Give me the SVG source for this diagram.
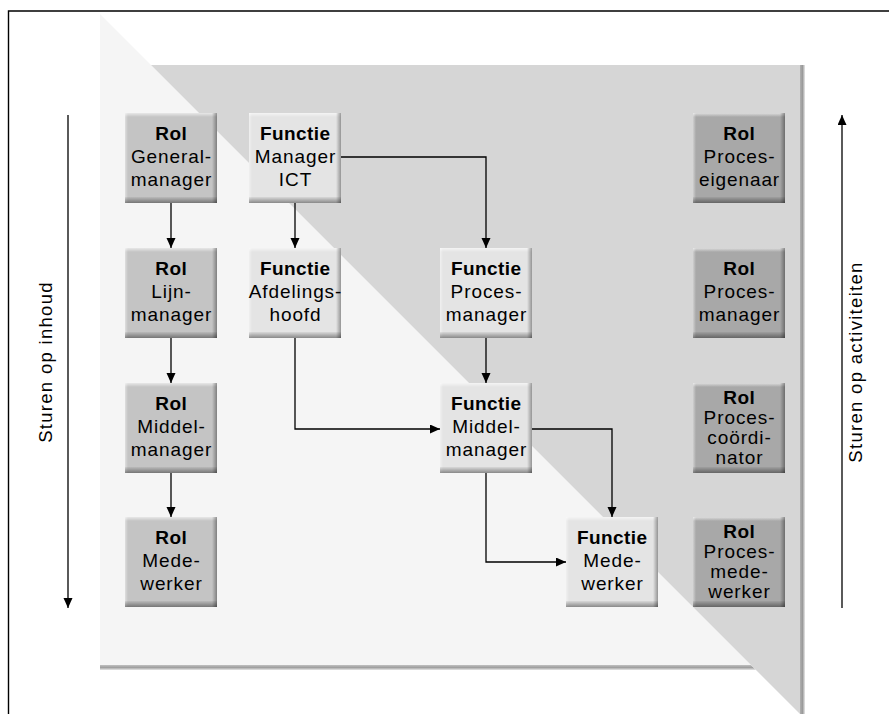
<svg xmlns="http://www.w3.org/2000/svg" width="889" height="714" viewBox="0 0 889 714">
<style>
  .t{font-family:"Liberation Sans",Arial,sans-serif;font-size:19px;fill:#000;text-anchor:middle;letter-spacing:0.9px}
  .b{font-weight:bold;letter-spacing:0.4px}
  .side{font-family:"Liberation Sans",Arial,sans-serif;font-size:18.5px;fill:#000;text-anchor:middle;letter-spacing:1.3px}
  .rolL{fill:#c4c4c4}
  .rolR{fill:#a8a8a8}
  .fun{fill:#e4e4e4}
  .hl-t{fill:url(#gTop)}
  .hl-l{fill:url(#gLeft)}
  .sh-r{fill:url(#gRight)}
  .sh-b{fill:url(#gBot)}
  .con{fill:none;stroke:#000;stroke-width:1.3;marker-end:url(#ah)}
</style>
<defs>
  <linearGradient id="gTop" x1="0" y1="0" x2="0" y2="1">
    <stop offset="0" stop-color="#fff" stop-opacity="0.6"/>
    <stop offset="1" stop-color="#fff" stop-opacity="0"/>
  </linearGradient>
  <linearGradient id="gLeft" x1="0" y1="0" x2="1" y2="0">
    <stop offset="0" stop-color="#fff" stop-opacity="0.45"/>
    <stop offset="1" stop-color="#fff" stop-opacity="0"/>
  </linearGradient>
  <linearGradient id="gRight" x1="0" y1="0" x2="1" y2="0">
    <stop offset="0" stop-color="#000" stop-opacity="0"/>
    <stop offset="1" stop-color="#000" stop-opacity="0.35"/>
  </linearGradient>
  <linearGradient id="gBot" x1="0" y1="0" x2="0" y2="1">
    <stop offset="0" stop-color="#000" stop-opacity="0.05"/>
    <stop offset="1" stop-color="#000" stop-opacity="0.4"/>
  </linearGradient>
  <linearGradient id="gPanelBot" x1="0" y1="0" x2="0" y2="1">
    <stop offset="0" stop-color="#c0c0c0"/>
    <stop offset="0.5" stop-color="#a0a0a0"/>
    <stop offset="1" stop-color="#e6e6e6"/>
  </linearGradient>
  <linearGradient id="gPanelRight" x1="0" y1="0" x2="1" y2="0">
    <stop offset="0" stop-color="#b0b0b0"/>
    <stop offset="0.5" stop-color="#9a9a9a"/>
    <stop offset="1" stop-color="#e8e8e8"/>
  </linearGradient>
  <marker id="ah" markerUnits="userSpaceOnUse" markerWidth="12" markerHeight="10" refX="10" refY="4.5" orient="auto">
    <path d="M0,0 L10,4.5 L0,9 Z" fill="#000"/>
  </marker>
  <g id="bevel">
    <rect x="0" y="0" width="92" height="4" class="hl-t"/>
    <rect x="0" y="0" width="3" height="90" class="hl-l"/>
    <rect x="87" y="0" width="5" height="90" class="sh-r"/>
    <rect x="0" y="84" width="92" height="6" class="sh-b"/>
  </g>
</defs>

<!-- frame -->
<path d="M889,11 H8.5 V714" fill="none" stroke="#000" stroke-width="1.4"/>

<!-- background panels -->
<g id="background">
  <polygon points="100,14 751,665 100,665" fill="#f5f5f5"/>
  <polygon points="100,665 751,665 756,670 100,670" fill="url(#gPanelBot)"/>
  <polygon points="151,65 800,65 800,714" fill="#d6d6d6"/>
  <rect x="800" y="65" width="5" height="649" fill="url(#gPanelRight)"/>
</g>

<!-- side arrows -->
<g id="side-left">
  <line x1="68" y1="115" x2="68" y2="608" class="con"/>
  <text class="side" transform="translate(52,362) rotate(-90)">Sturen op inhoud</text>
</g>
<g id="side-right">
  <line x1="842" y1="608" x2="842" y2="115" class="con"/>
  <text class="side" transform="translate(862,362) rotate(-90)">Sturen op activiteiten</text>
</g>

<!-- connectors -->
<g id="connectors">
  <path class="con" d="M171,203 V248"/>
  <path class="con" d="M171,338 V383"/>
  <path class="con" d="M171,473 V517"/>
  <path class="con" d="M295,203 V248"/>
  <path class="con" d="M341,157 H486 V248"/>
  <path class="con" d="M486,338 V383"/>
  <path class="con" d="M295,338 V429 H440"/>
  <path class="con" d="M532,429 H612 V517"/>
  <path class="con" d="M486,473 V562 H566"/>
</g>

<!-- left column: Rol -->
<g id="rol-generalmanager" transform="translate(125,113)">
  <rect width="92" height="90" class="rolL"/><use href="#bevel"/>
  <text class="t b" x="46.2" y="27">Rol</text>
  <text class="t" x="46.5" y="50">General-</text>
  <text class="t" x="46.5" y="73">manager</text>
</g>
<g id="rol-lijnmanager" transform="translate(125,248)">
  <rect width="92" height="90" class="rolL"/><use href="#bevel"/>
  <text class="t b" x="46.2" y="27">Rol</text>
  <text class="t" x="46.5" y="50">Lijn-</text>
  <text class="t" x="46.5" y="73">manager</text>
</g>
<g id="rol-middelmanager" transform="translate(125,383)">
  <rect width="92" height="90" class="rolL"/><use href="#bevel"/>
  <text class="t b" x="46.2" y="27">Rol</text>
  <text class="t" x="46.5" y="50">Middel-</text>
  <text class="t" x="46.5" y="73">manager</text>
</g>
<g id="rol-medewerker" transform="translate(125,517)">
  <rect width="92" height="90" class="rolL"/><use href="#bevel"/>
  <text class="t b" x="46.2" y="27">Rol</text>
  <text class="t" x="46.5" y="50">Mede-</text>
  <text class="t" x="46.5" y="73">werker</text>
</g>

<!-- Functie nodes -->
<g id="functie-manager-ict" transform="translate(249,113)">
  <rect width="92" height="90" class="fun"/><use href="#bevel"/>
  <text class="t b" x="46.2" y="27">Functie</text>
  <text class="t" x="46.5" y="50">Manager</text>
  <text class="t" x="46.5" y="73">ICT</text>
</g>
<g id="functie-afdelingshoofd" transform="translate(249,248)">
  <rect width="92" height="90" class="fun"/><use href="#bevel"/>
  <text class="t b" x="46.2" y="27">Functie</text>
  <text class="t" x="46.5" y="50">Afdelings-</text>
  <text class="t" x="46.5" y="73">hoofd</text>
</g>
<g id="functie-procesmanager" transform="translate(440,248)">
  <rect width="92" height="90" class="fun"/><use href="#bevel"/>
  <text class="t b" x="46.2" y="27">Functie</text>
  <text class="t" x="46.5" y="50">Proces-</text>
  <text class="t" x="46.5" y="73">manager</text>
</g>
<g id="functie-middelmanager" transform="translate(440,383)">
  <rect width="92" height="90" class="fun"/><use href="#bevel"/>
  <text class="t b" x="46.2" y="27">Functie</text>
  <text class="t" x="46.5" y="50">Middel-</text>
  <text class="t" x="46.5" y="73">manager</text>
</g>
<g id="functie-medewerker" transform="translate(566,517)">
  <rect width="92" height="90" class="fun"/><use href="#bevel"/>
  <text class="t b" x="46.2" y="27">Functie</text>
  <text class="t" x="46.5" y="50">Mede-</text>
  <text class="t" x="46.5" y="73">werker</text>
</g>

<!-- right column: Rol -->
<g id="rol-proceseigenaar" transform="translate(693,113)">
  <rect width="92" height="90" class="rolR"/><use href="#bevel"/>
  <text class="t b" x="46.2" y="27">Rol</text>
  <text class="t" x="46.5" y="50">Proces-</text>
  <text class="t" x="46.5" y="73">eigenaar</text>
</g>
<g id="rol-procesmanager" transform="translate(693,248)">
  <rect width="92" height="90" class="rolR"/><use href="#bevel"/>
  <text class="t b" x="46.2" y="27">Rol</text>
  <text class="t" x="46.5" y="50">Proces-</text>
  <text class="t" x="46.5" y="73">manager</text>
</g>
<g id="rol-procescoordinator" transform="translate(693,383)">
  <rect width="92" height="90" class="rolR"/><use href="#bevel"/>
  <text class="t b" x="46.2" y="21">Rol</text>
  <text class="t" x="46.5" y="41">Proces-</text>
  <text class="t" x="46.5" y="61">coördi-</text>
  <text class="t" x="46.5" y="81">nator</text>
</g>
<g id="rol-procesmedewerker" transform="translate(693,517)">
  <rect width="92" height="90" class="rolR"/><use href="#bevel"/>
  <text class="t b" x="46.2" y="21">Rol</text>
  <text class="t" x="46.5" y="41">Proces-</text>
  <text class="t" x="46.5" y="61">mede-</text>
  <text class="t" x="46.5" y="81">werker</text>
</g>
</svg>
